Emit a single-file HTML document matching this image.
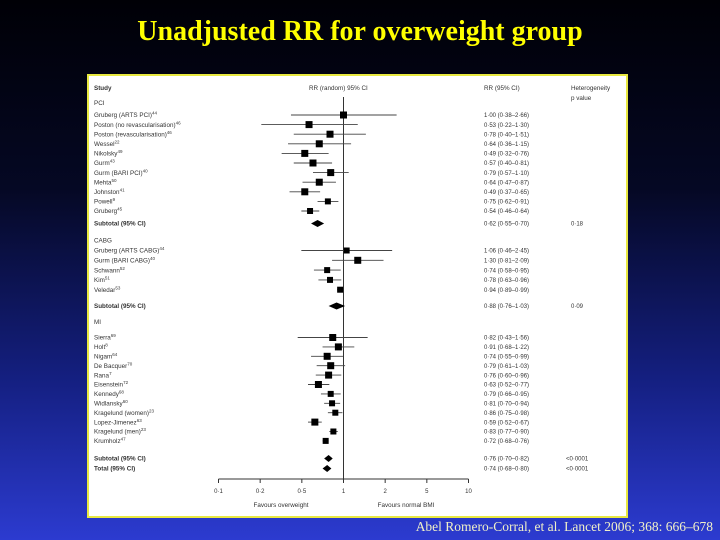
<!DOCTYPE html>
<html><head><meta charset="utf-8"><style>
html,body{margin:0;padding:0;}
body{width:720px;height:540px;overflow:hidden;background:linear-gradient(to bottom,#000006 0%,#050824 35%,#141f80 70%,#2c3bd0 100%);font-family:"Liberation Sans",sans-serif;position:relative;}
#title{position:absolute;left:0;width:720px;top:16px;text-align:center;font-family:"Liberation Serif",serif;font-weight:bold;font-size:28px;color:#ffff00;}
#cite{position:absolute;right:7px;top:519px;font-family:"Liberation Serif",serif;font-size:13.5px;color:#f0f0c8;}
svg{position:absolute;left:0;top:0;}
svg text{font-family:"Liberation Sans",sans-serif;fill:#333;}
</style></head><body>
<div id="title">Unadjusted RR for overweight group</div>
<svg id="chart" width="720" height="540">
<rect x="88" y="75" width="539" height="442" fill="#fff" stroke="#e8e840" stroke-width="2"/>
</svg>
<div id="cite">Abel Romero-Corral, et al. Lancet 2006; 368: 666–678</div>
<script>
const studyLabels=["Gruberg (ARTS PCI)|44","Poston (no revascularisation)|46","Poston (revascularisation)|46","Wessel|22","Nikolsky|49","Gurm|43","Gurm (BARI PCI)|40","Mehta|50","Johnston|41","Powell|9","Gruberg|45",
"Gruberg (ARTS CABG)|44","Gurm (BARI CABG)|40","Schwann|52","Kim|51","Veledar|53",
"Sierra|69","Holt|8","Nigam|64","De Bacquer|70","Rana|7","Eisenstein|72","Kennedy|68","Widlansky|60","Kragelund (women)|23","Lopez-Jimenez|63","Kragelund (men)|23","Krumholz|47"];
const studyGroup=[0,0,0,0,0,0,0,0,0,0,0,1,1,1,1,1,2,2,2,2,2,2,2,2,2,2,2,2];
const rr=[1.00,0.53,0.78,0.64,0.49,0.57,0.79,0.64,0.49,0.75,0.54,1.06,1.30,0.74,0.78,0.94,0.82,0.91,0.74,0.79,0.76,0.63,0.79,0.81,0.86,0.59,0.83,0.72];
const lo=[0.38,0.22,0.40,0.36,0.32,0.40,0.57,0.47,0.37,0.62,0.46,0.46,0.81,0.58,0.63,0.89,0.43,0.68,0.55,0.61,0.60,0.52,0.66,0.70,0.75,0.52,0.77,0.68];
const hi=[2.66,1.30,1.51,1.15,0.76,0.81,1.10,0.87,0.65,0.91,0.64,2.45,2.09,0.95,0.96,0.99,1.56,1.22,0.99,1.03,0.96,0.77,0.95,0.94,0.98,0.67,0.90,0.76];
const weight=[7,7,7,7,7,7,7,7,7,6,6,6,7,6,6,6,7,7,7,7,7,7,6,6,6,7,6,6];
const groupNames=["PCI","CABG","MI"];
const subLabels=["Subtotal (95% CI)","Subtotal (95% CI)","Subtotal (95% CI)","Total (95% CI)"];
const subRR=[0.62,0.88,0.76,0.74];
const subLo=[0.55,0.76,0.70,0.68];
const subHi=[0.70,1.03,0.82,0.80];
const subP=["0·18","0·09","<0·0001","<0·0001"];
const tickLabels=["0·1","0·2","0·5","1","2","5","10"];
const tickValues=[0.1,0.2,0.5,1,2,5,10];

const svg=document.getElementById('chart');
const NS='http://www.w3.org/2000/svg';
const X0=218.5,X10=468.5;
function xs(v){return X0+(Math.log10(v)+1)/2*(X10-X0);}
function fmt(v){return v.toFixed(2).replace('.','·');}
function mk(tag,attrs,txt){const e=document.createElementNS(NS,tag);for(const k in attrs)e.setAttribute(k,attrs[k]);if(txt!==undefined)e.textContent=txt;svg.appendChild(e);return e;}
function label(x,y,s,opts){const t=mk('text',Object.assign({x:x,y:y,'font-size':6.3},opts||{}));const parts=s.split('|');t.appendChild(document.createTextNode(parts[0]));if(parts[1]){const sp=document.createElementNS(NS,'tspan');sp.setAttribute('dy',-2.5);sp.setAttribute('font-size',4.5);sp.textContent=parts[1];t.appendChild(sp);}return t;}

let h;
h=label(94,90,"Study",{'font-weight':'bold'});


h=label(309,90,"RR (random) 95% CI");


h=label(484,90,"RR (95% CI)");


h=label(571,90,"Heterogeneity");


h=label(571,100,"p value");



const groupStart=[115,250.5,337.5];
const rowStep=[9.6,9.8,9.4];
const groupHeadY=[103,240.5,322];
const subY=[223.5,306,458.5,468.5];
const counts=[0,0,0];

const ln=mk('line',{x1:xs(1),x2:xs(1),y1:97,y2:479,stroke:'#333','stroke-width':1});



groupNames.forEach((g,i)=>{const t=label(94,groupHeadY[i]+2,g);

});

studyLabels.forEach((s,i)=>{
 const g=studyGroup[i];const y=groupStart[g]+counts[g]*rowStep[g];counts[g]++;
 const t=label(94,y+2.2,s);
 
 
 const l=mk('line',{x1:xs(lo[i]),x2:xs(hi[i]),y1:y,y2:y,stroke:'#444','stroke-width':0.9});
 
 
 const w=weight[i];
 const r=mk('rect',{x:xs(rr[i])-w/2,y:y-w/2,width:w,height:w,fill:'#000'});
 
 
 const v=label(484,y+2.2,fmt(rr[i])+" ("+fmt(lo[i])+"–"+fmt(hi[i])+")",{'font-size':6});
 
 
});

subLabels.forEach((s,i)=>{
 const y=subY[i];
 const t=label(94,y+2.2,s,{'font-weight':'bold'});
 
 
 const a=xs(subLo[i]),b=xs(subHi[i]),c=xs(subRR[i]);
 const d=mk('polygon',{points:`${a},${y} ${c},${y-3.5} ${b},${y} ${c},${y+3.5}`,fill:'#000'});
 
 
 const v=label(484,y+2.2,fmt(subRR[i])+" ("+fmt(subLo[i])+"–"+fmt(subHi[i])+")",{'font-size':6});
 
 
 const p=label(i<2?571:566,y+2.2,subP[i],{'font-size':6});
 
 
});

const ax=mk('line',{x1:X0,x2:X10,y1:479,y2:479,stroke:'#333','stroke-width':1});


tickLabels.forEach((s,i)=>{
 const x=X0+i*(X10-X0)/(tickLabels.length-1);
 const tk=mk('line',{x1:x,x2:x,y1:479,y2:483,stroke:'#333','stroke-width':1});
 
 
 const t=mk('text',{x:x,y:493,'font-size':6,'text-anchor':'middle'},s);
 
 
});
h=mk('text',{x:281,y:507,'font-size':6.3,'text-anchor':'middle'},"Favours overweight");


h=mk('text',{x:406,y:507,'font-size':6.3,'text-anchor':'middle'},"Favours normal BMI");


</script>
</body></html>
